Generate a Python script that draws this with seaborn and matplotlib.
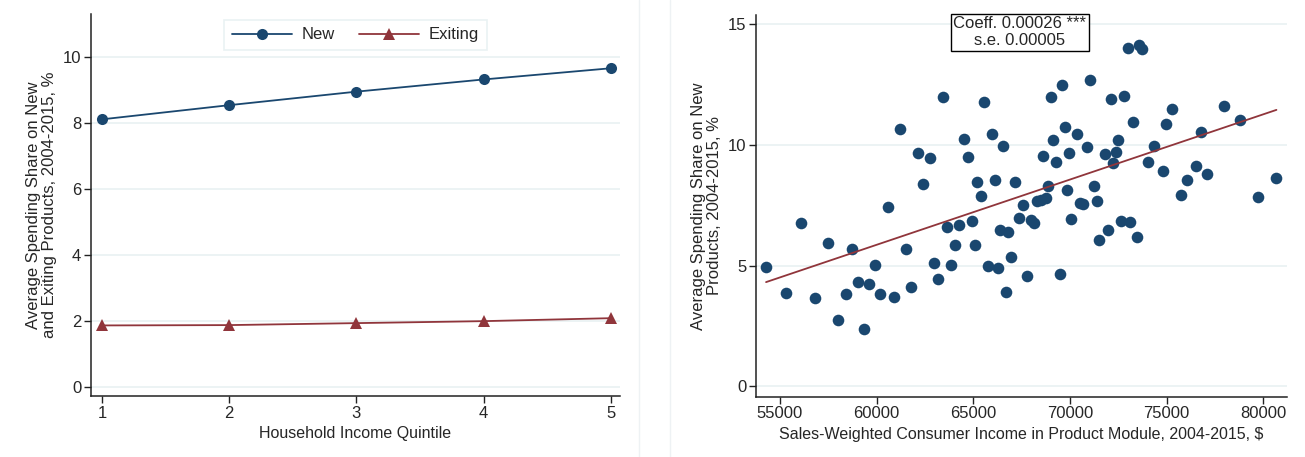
import pandas as pd
import matplotlib
matplotlib.use('Agg')
import matplotlib.pyplot as plt
import matplotlib.lines as mlines
import seaborn as sns

# 左图: 收入五分位
quintile = [1, 2, 3, 4, 5]
share_new = [8.11, 8.54, 8.95, 9.32, 9.66]
share_exit = [1.86, 1.87, 1.93, 1.99, 2.08]

# 右图: 产品模块散点
income = [54280, 55329, 56111, 56811, 57490, 58004, 58395, 58745, 59012, 59342,
          59630, 59897, 60185, 60576, 60905, 61234, 61502, 61790, 62119, 62407,
          62778, 62983, 63169, 63415, 63642, 63848, 64053, 64259, 64506, 64712,
          64918, 65082, 65206, 65391, 65576, 65761, 65967, 66111, 66255, 66399,
          66543, 66667, 66811, 66934, 67181, 67387, 67593, 67778, 67963, 68148,
          68292, 68498, 68621, 68786, 68889, 69012, 69136, 69280, 69465, 69609,
          69733, 69835, 69959, 70062, 70350, 70514, 70679, 70905, 71049, 71255,
          71379, 71502, 71790, 71975, 72098, 72222, 72366, 72469, 72634, 72798,
          72984, 73128, 73251, 73457, 73580, 73704, 74033, 74362, 74815, 74979,
          75288, 75741, 76070, 76543, 76790, 77099, 77963, 78786, 79733, 80679]
share = [4.93, 3.86, 6.78, 3.66, 5.92, 2.76, 3.82, 5.69, 4.33, 2.35,
         4.22, 5.01, 3.84, 7.44, 3.68, 10.65, 5.70, 4.11, 9.66, 8.38,
         9.48, 5.11, 4.44, 11.98, 6.58, 5.01, 5.86, 6.69, 10.25, 9.51,
         6.84, 5.85, 8.47, 7.88, 11.77, 5.00, 10.46, 8.56, 4.88, 6.49,
         9.95, 3.89, 6.39, 5.34, 8.47, 6.97, 7.51, 4.57, 6.89, 6.78,
         7.66, 7.71, 9.56, 7.82, 8.32, 11.98, 10.22, 9.31, 4.65, 12.47,
         10.74, 8.14, 9.67, 6.91, 10.46, 7.58, 7.55, 9.92, 12.68, 8.29,
         7.69, 6.04, 9.63, 6.47, 11.91, 9.27, 9.69, 10.22, 6.86, 12.02,
         14.03, 6.79, 10.97, 6.20, 14.13, 13.99, 9.29, 9.95, 8.93, 10.89,
         11.51, 7.91, 8.56, 9.13, 10.56, 8.79, 11.63, 11.03, 7.85, 8.64]

navy = '#1A476F'
maroon = '#90353B'
grid_c = '#EAF2F3'

sns.set_style("white")
plt.rcParams['font.family'] = ['Liberation Sans', 'DejaVu Sans']
plt.rcParams['font.size'] = 11

fig = plt.figure(figsize=(13.05, 4.57), dpi=100)
ax1 = fig.add_axes([0.0697, 0.1335, 0.4053, 0.8355])
ax2 = fig.add_axes([0.5793, 0.132, 0.4069, 0.835])

# 左图
df_q = pd.DataFrame({'quintile': quintile * 2,
                     'share': share_new + share_exit,
                     'type': ['New'] * 5 + ['Exiting'] * 5})
sns.lineplot(data=df_q, x='quintile', y='share', hue='type', style='type',
             markers=['o', '^'], dashes=False, palette=[navy, maroon],
             markersize=8, markeredgewidth=0, linewidth=1.3, ax=ax1, legend=False)
ax1.set_xlim(0.914, 5.07)
ax1.set_ylim(-0.28, 11.3)
ax1.set_xticks(quintile)
ax1.set_yticks([0, 2, 4, 6, 8, 10])
ax1.set_xlabel('Household Income Quintile')
ax1.set_ylabel('Average Spending Share on New\nand Exiting Products, 2004-2015, %',
               linespacing=1.1)
h1 = mlines.Line2D([], [], color=navy, marker='o', markersize=8, markeredgewidth=0, lw=1.3)
h2 = mlines.Line2D([], [], color=maroon, marker='^', markersize=8, markeredgewidth=0, lw=1.3)
leg = ax1.legend([h1, h2], ['New', 'Exiting'], ncol=2, loc='upper center',
                 bbox_to_anchor=(0.5, 0.985), handlelength=3.6, handletextpad=0.6,
                 columnspacing=1.45, fancybox=False, framealpha=1, fontsize=12,
                 borderpad=0.45, borderaxespad=0)
leg.get_frame().set_edgecolor(grid_c)
leg.get_frame().set_linewidth(1.2)

# 右图
df_s = pd.DataFrame({'income': income, 'share': share})
sns.regplot(data=df_s, x='income', y='share', ci=None, ax=ax2,
            scatter_kws={'s': 70, 'color': navy, 'alpha': 1, 'linewidths': 0},
            line_kws={'color': maroon, 'lw': 1.3})
ax2.set_xlim(53759, 81226)
ax2.set_ylim(-0.44, 15.39)
ax2.set_xticks([55000, 60000, 65000, 70000, 75000, 80000])
ax2.set_yticks([0, 5, 10, 15])
ax2.set_xlabel('Sales-Weighted Consumer Income in Product Module, 2004-2015, $')
ax2.set_ylabel('Average Spending Share on New\nProducts, 2004-2015, %', linespacing=1.1)
ax2.text(0.497, 0.955, 'Coeff. 0.00026 ***\ns.e. 0.00005', transform=ax2.transAxes,
         ha='center', va='center', fontsize=12, linespacing=1.2,
         bbox=dict(boxstyle='square,pad=0.15', fc='white', ec='black', lw=1))

for ax in (ax1, ax2):
    ax.grid(axis='y', color=grid_c, lw=1.3)
    ax.set_axisbelow(True)
    sns.despine(ax=ax)
    for s in ('left', 'bottom'):
        ax.spines[s].set_color('#222222')
        ax.spines[s].set_linewidth(1.1)
    ax.tick_params(direction='out', length=5, width=1, color='#222222',
                   labelsize=12, bottom=True, left=True, pad=2)
    ax.xaxis.label.set_size(11.5)
    ax.yaxis.label.set_size(12)

# 面板分隔线
fig.add_artist(mlines.Line2D([0.4897, 0.4897], [0, 1], color='#EEF2F4', lw=1))
fig.add_artist(mlines.Line2D([0.5134, 0.5134], [0, 1], color='#EEF2F4', lw=1))

plt.savefig('out.png', dpi=100)
